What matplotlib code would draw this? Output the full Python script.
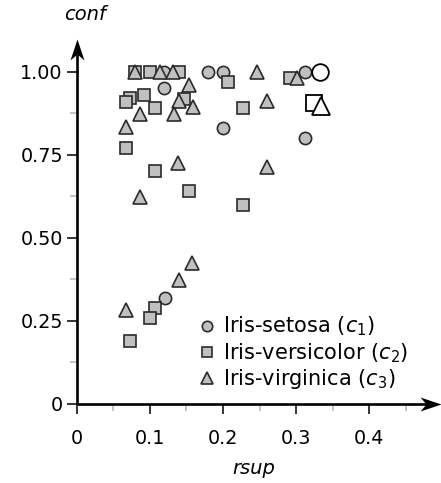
import matplotlib
matplotlib.use('Agg')
import matplotlib.pyplot as plt
from matplotlib.path import Path

# rule support (rsup) and confidence (conf) per class
setosa_rsup = [0.119, 0.119, 0.179, 0.1995, 0.1995, 0.312, 0.312, 0.120]
setosa_conf = [1.00, 0.95, 1.00, 1.00, 0.83, 1.00, 0.80, 0.318]

versicolor_rsup = [0.080, 0.100, 0.140, 0.207, 0.292, 0.073, 0.067, 0.0925,
                   0.107, 0.147, 0.227, 0.067, 0.107, 0.153, 0.227, 0.107,
                   0.100, 0.073]
versicolor_conf = [1.00, 1.00, 1.00, 0.97, 0.98, 0.92, 0.91, 0.929,
                   0.89, 0.919, 0.89, 0.77, 0.70, 0.64, 0.60, 0.29,
                   0.26, 0.19]

virginica_rsup = [0.080, 0.114, 0.132, 0.246, 0.301, 0.153, 0.1395, 0.1595,
                  0.0866, 0.1327, 0.260, 0.067, 0.139, 0.260, 0.0866, 0.158,
                  0.140, 0.067]
virginica_conf = [1.00, 1.00, 1.00, 1.00, 0.981, 0.961, 0.912, 0.895,
                  0.872, 0.872, 0.913, 0.834, 0.724, 0.714, 0.624, 0.423,
                  0.374, 0.283]

# overall values per class (big white markers)
overall_rsup = [0.332, 0.3246, 0.3338]
overall_conf = [1.00, 0.905, 0.896]

labels = ['Iris-setosa ($c_1$)', 'Iris-versicolor ($c_2$)', 'Iris-virginica ($c_3$)']
xticks = [0, 0.1, 0.2, 0.3, 0.4]
xticklabels = ['0', '0.1', '0.2', '0.3', '0.4']
yticks = [0, 0.25, 0.5, 0.75, 1.0]
yticklabels = ['0', '0.25', '0.50', '0.75', '1.00']

plt.rcParams['font.family'] = ['DejaVu Sans']
plt.rcParams['mathtext.fontset'] = 'dejavusans'

gray = '#c0c0c0'
edge = '#2a2a2a'

fig = plt.figure(figsize=(4.41, 4.83), dpi=100)
ax = fig.add_axes([0.174, 0.1636, 0.826, 0.755])
ax.set_xlim(0, 0.498)
ax.set_ylim(0, 1.0975)
for s in ax.spines.values():
    s.set_visible(False)

# data
h1, = ax.plot(setosa_rsup, setosa_conf, 'o', ms=8.8, mfc=gray, mec=edge, mew=1.2, label=labels[0])
h2, = ax.plot(versicolor_rsup, versicolor_conf, 's', ms=8.4, mfc=gray, mec=edge, mew=1.2, label=labels[1])
h3, = ax.plot(virginica_rsup, virginica_conf, '^', ms=9.4, mfc=gray, mec=edge, mew=1.2, label=labels[2])
ax.plot(overall_rsup[0], overall_conf[0], 'o', ms=12, mfc='white', mec='k', mew=1.3, zorder=4)
ax.plot(overall_rsup[1], overall_conf[1], 's', ms=11, mfc='white', mec='k', mew=1.3, zorder=4)
ax.plot(overall_rsup[2], overall_conf[2], '^', ms=13, mfc='white', mec='k', mew=1.3, zorder=5)

# axis lines with stealth arrows
xhead = Path([(0, 0), (-21, 7), (-15, 0), (-21, -7), (0, 0)],
             [Path.MOVETO, Path.LINETO, Path.LINETO, Path.LINETO, Path.CLOSEPOLY])
yhead = Path([(0, 0), (7, -21), (0, -15), (-7, -21), (0, 0)],
             [Path.MOVETO, Path.LINETO, Path.LINETO, Path.LINETO, Path.CLOSEPOLY])
ax.plot([0, 0.97], [0, 0], transform=ax.transAxes, color='k', lw=1.9,
        solid_capstyle='butt', clip_on=False, zorder=6)
ax.plot([0, 0], [0, 0.96], transform=ax.transAxes, color='k', lw=1.9,
        solid_capstyle='butt', clip_on=False, zorder=6)
ax.plot([1], [0], transform=ax.transAxes, marker=xhead, ms=30.2, color='k',
        mew=0, clip_on=False, zorder=7)
ax.plot([0], [1], transform=ax.transAxes, marker=yhead, ms=30.2, color='k',
        mew=0, clip_on=False, zorder=7)

# ticks
ax.set_xticks(xticks)
ax.set_xticklabels(xticklabels)
ax.set_xticks([0.05, 0.15, 0.25, 0.35, 0.45], minor=True)
ax.set_yticks(yticks)
ax.set_yticklabels(yticklabels)
ax.set_yticks([0.125, 0.375, 0.625, 0.875], minor=True)
ax.tick_params(which='major', length=7, width=1.1, color='k', direction='out', labelsize=13.8)
ax.tick_params(which='minor', length=5, width=1.1, color='#b4b4b4', direction='out')
ax.tick_params(axis='x', which='major', pad=11)
ax.tick_params(axis='y', which='major', pad=3)

fig.text(85 / 441, 1 - 15 / 483, 'conf', style='italic', fontsize=14, ha='center', va='center')
fig.text(254 / 441, 1 - 468 / 483, 'rsup', style='italic', fontsize=14, ha='center', va='center')

ax.legend(handles=[h1, h2, h3], loc='center left', bbox_to_anchor=(196.3 / 441, 130 / 483),
          bbox_transform=fig.transFigure, frameon=False, fontsize=15, markerscale=0.85,
          handlelength=1.0, handletextpad=0.28, borderpad=0, borderaxespad=0, labelspacing=0.12)

fig.savefig('out.png', dpi=100)
